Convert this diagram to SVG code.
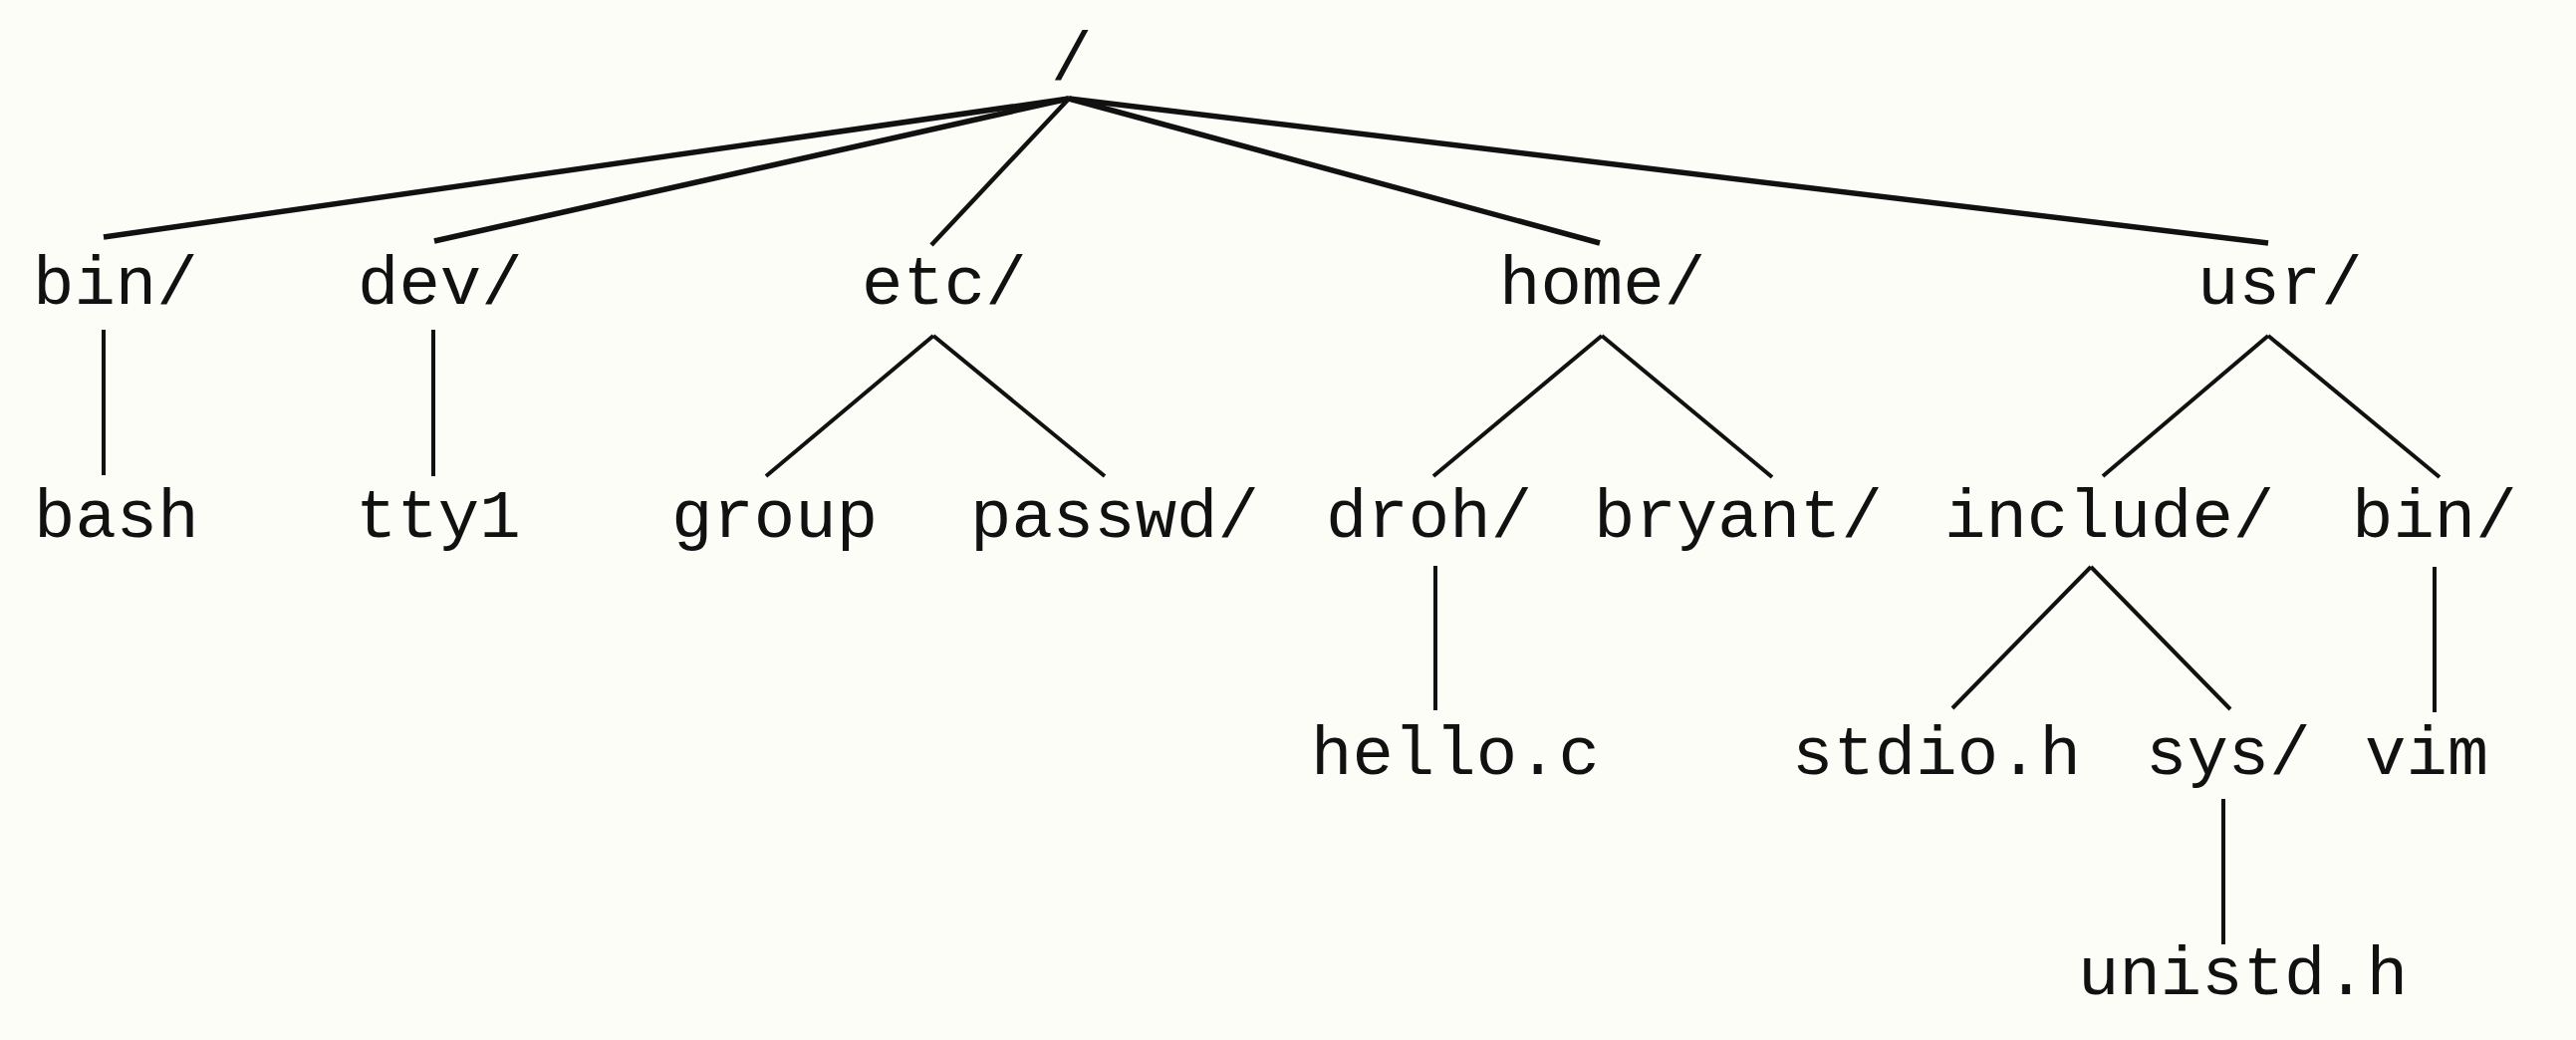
<svg xmlns="http://www.w3.org/2000/svg" width="2586" height="1044" viewBox="0 0 2586 1044">
<style>
.t{font-family:"Liberation Mono","Courier New",monospace;font-size:69px;fill:#111;}
.e{stroke:#111;stroke-width:4;fill:none;stroke-linecap:butt;}
.r{stroke:#111;stroke-width:5.5;fill:none;}
</style>
<rect x="0" y="0" width="2586" height="1044" fill="#fdfdf8"/>
<g id="connectors">
<line class="r" x1="1073" y1="99" x2="104" y2="238"/>
<line class="r" x1="1073" y1="99" x2="436" y2="242"/>
<line class="e" style="stroke-width:4.5" x1="1073" y1="99" x2="935" y2="246"/>
<line class="r" x1="1073" y1="99" x2="1606" y2="244"/>
<line class="r" x1="1073" y1="99" x2="2277" y2="244"/>
<line class="e" x1="104" y1="331" x2="104" y2="477"/>
<line class="e" x1="435" y1="331" x2="435" y2="478"/>
<line class="e" x1="937" y1="337" x2="769" y2="478"/>
<line class="e" x1="937" y1="337" x2="1109" y2="478"/>
<line class="e" x1="1608" y1="337" x2="1439" y2="478"/>
<line class="e" x1="1608" y1="337" x2="1779" y2="479"/>
<line class="e" x1="2277" y1="337" x2="2111" y2="478"/>
<line class="e" x1="2277" y1="337" x2="2449" y2="479"/>
<line class="e" x1="1441" y1="568" x2="1441" y2="713"/>
<line class="e" x1="2099" y1="569" x2="1960" y2="711"/>
<line class="e" x1="2099" y1="569" x2="2239" y2="712"/>
<line class="e" x1="2444" y1="569" x2="2444" y2="715"/>
<line class="e" x1="2232" y1="802" x2="2232" y2="948"/>
</g>
<g id="root"><text class="t" x="1055" y="80">/</text></g>
<g id="bin"><text class="t" x="33" y="305">bin/</text></g>
<g id="dev"><text class="t" x="359" y="305">dev/</text></g>
<g id="etc"><text class="t" x="865" y="305">etc/</text></g>
<g id="home"><text class="t" x="1505" y="305">home/</text></g>
<g id="usr"><text class="t" x="2206" y="305">usr/</text></g>
<g id="bash"><text class="t" x="34" y="539">bash</text></g>
<g id="tty1"><text class="t" x="357" y="539">tty1</text></g>
<g id="group"><text class="t" x="674" y="539">group</text></g>
<g id="passwd"><text class="t" x="974" y="539">passwd/</text></g>
<g id="droh"><text class="t" x="1331" y="539">droh/</text></g>
<g id="bryant"><text class="t" x="1600" y="539">bryant/</text></g>
<g id="include"><text class="t" x="1952" y="539">include/</text></g>
<g id="usrbin"><text class="t" x="2361" y="539">bin/</text></g>
<g id="hello"><text class="t" x="1316" y="777">hello.c</text></g>
<g id="stdio"><text class="t" x="1799" y="777">stdio.h</text></g>
<g id="sys"><text class="t" x="2154" y="777">sys/</text></g>
<g id="vim"><text class="t" x="2374" y="777">vim</text></g>
<g id="unistd"><text class="t" x="2086" y="998">unistd.h</text></g>
</svg>
